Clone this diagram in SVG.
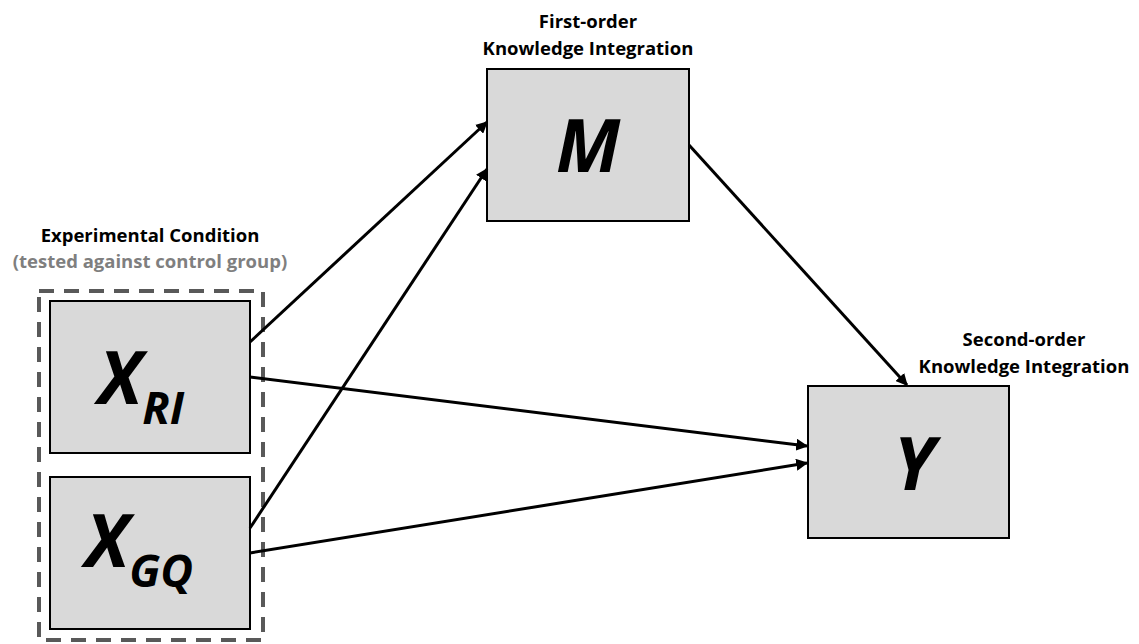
<svg xmlns="http://www.w3.org/2000/svg" width="1139" height="644" viewBox="0 0 1139 644">
<style>
.box{fill:#d9d9d9;stroke:#000;stroke-width:2}
.lbl{font-family:"Open Sans",Lato,sans-serif;font-weight:bold;font-size:18.5px;fill:#000;text-anchor:middle}
.gray{fill:#7f7f7f}
.big{font-family:"Open Sans",Lato,sans-serif;font-weight:bold;font-style:italic;fill:#000}
.conn{stroke:#000;stroke-width:3;fill:none;marker-end:url(#ah)}
</style>
<defs>
<marker id="ah" viewBox="0 0 10 10" refX="9" refY="5" markerWidth="4" markerHeight="4" orient="auto" markerUnits="strokeWidth">
<path d="M0,0 L10,5 L0,10 z" fill="#000"/>
</marker>
</defs>
<rect width="1139" height="644" fill="#fff"/>
<g id="group-x">
<rect x="39" y="291" width="224" height="349" fill="none" stroke="#595959" stroke-width="4" stroke-dasharray="15,10"/>
<text class="lbl" x="150" y="242">Experimental Condition</text>
<text class="lbl gray" x="150" y="268">(tested against control group)</text>
</g>
<g id="node-xri">
<rect class="box" x="50" y="301" width="200" height="152"/>
<text class="big" x="98" y="404" font-size="73">X<tspan font-size="45" dy="20">RI</tspan></text>
</g>
<g id="node-xgq">
<rect class="box" x="50" y="477" width="200" height="152"/>
<text class="big" x="85" y="567" font-size="73">X<tspan font-size="45" dy="20">GQ</tspan></text>
</g>
<g id="node-m">
<rect class="box" x="487" y="69" width="202" height="152"/>
<text class="lbl" x="588" y="28">First-order</text>
<text class="lbl" x="588" y="55">Knowledge Integration</text>
<text class="big" x="588" y="172" font-size="73" text-anchor="middle">M</text>
</g>
<g id="node-y">
<rect class="box" x="808" y="386" width="201" height="152"/>
<text class="lbl" x="1024" y="346">Second-order</text>
<text class="lbl" x="1024" y="373">Knowledge Integration</text>
<text class="big" x="914" y="490" font-size="73" text-anchor="middle">Y</text>
</g>
<g id="connectors">
<line class="conn" x1="250" y1="342" x2="487" y2="122"/>
<line class="conn" x1="250" y1="528" x2="487" y2="169"/>
<line class="conn" x1="250" y1="377" x2="807" y2="446"/>
<line class="conn" x1="250" y1="553" x2="807" y2="463"/>
<line class="conn" x1="689" y1="145" x2="907" y2="385"/>
</g>
</svg>
